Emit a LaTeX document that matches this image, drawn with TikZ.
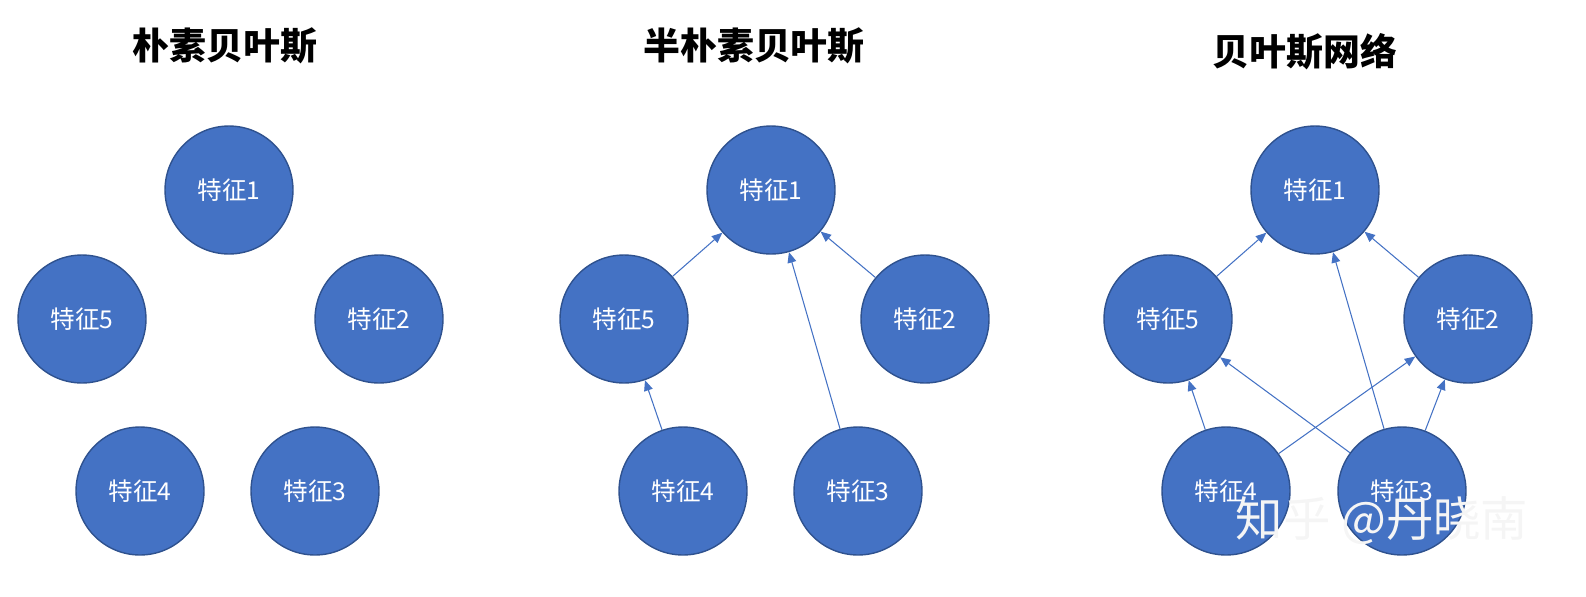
\documentclass[tikz,border=0pt]{standalone}
\usepackage{fontspec}
\setmainfont{Liberation Sans}
\newfontfamily\cjk{Noto Sans CJK SC}
\usetikzlibrary{arrows.meta}
\definecolor{nfill}{HTML}{4472C4}
\definecolor{nline}{HTML}{2F528F}
\tikzset{
 x=0.02cm,y=-0.02cm,
 feat/.style={circle,fill=nfill,draw=nline,line width=0.8pt,minimum size=2.56cm,inner sep=0pt,text=white,font=\cjk\fontsize{14}{14}\selectfont},
 ttl/.style={font=\cjk\bfseries\fontsize{21}{21}\selectfont},
 arr/.style={draw=nfill,line width=0.6pt,-{Triangle[length=6pt,width=5pt]}}
}
\begin{document}
\begin{tikzpicture}
\useasboundingbox (0,0) rectangle (1586,596);
\node[ttl] (t1) at (225,46) {朴素贝叶斯};
\node[ttl] (t2) at (754,46) {半朴素贝叶斯};
\node[ttl] (t3) at (1305,52) {贝叶斯网络};
% panel 1
\node[feat] (a1) at (229,190) {特征1};
\node[feat] (a5) at (82,319) {特征5};
\node[feat] (a2) at (379,319) {特征2};
\node[feat] (a4) at (140,491) {特征4};
\node[feat] (a3) at (315,491) {特征3};
% panel 2
\node[feat] (b1) at (771,190) {特征1};
\node[feat] (b5) at (624,319) {特征5};
\node[feat] (b2) at (925,319) {特征2};
\node[feat] (b4) at (683,491) {特征4};
\node[feat] (b3) at (858,491) {特征3};
\draw[arr] (b5) -- (b1);
\draw[arr] (b2) -- (b1);
\draw[arr] (b3) -- (b1);
\draw[arr] (b4) -- (b5);
% panel 3
\node[feat] (c1) at (1315,190) {特征1};
\node[feat] (c5) at (1168,319) {特征5};
\node[feat] (c2) at (1468,319) {特征2};
\node[feat] (c4) at (1226,491) {特征4};
\node[feat] (c3) at (1402,491) {特征3};
\draw[arr] (c5) -- (c1);
\draw[arr] (c2) -- (c1);
\draw[arr] (c3) -- (c1);
\draw[arr] (c4) -- (c5);
\draw[arr] (c3) -- (c5);
\draw[arr] (c4) -- (c2);
\draw[arr] (c3) -- (c2);
\node[font=\cjk\fontsize{27}{27}\selectfont,text=white!92!gray] (wm) at (1382,521) {知乎 @丹晓南};
\end{tikzpicture}
\end{document}
